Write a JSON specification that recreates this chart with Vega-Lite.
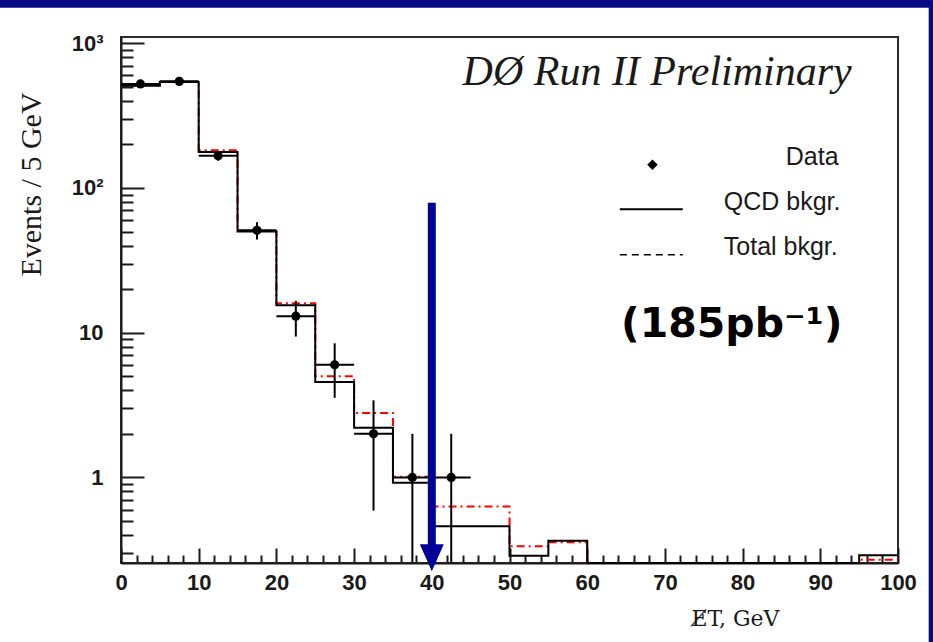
{
  "$schema": "https://vega.github.io/schema/vega-lite/v6.json",
  "width": 777,
  "height": 526,
  "autosize": {"type": "none"},
  "padding": {"left": 121, "top": 37, "right": 35, "bottom": 79},
  "background": "#ffffff",
  "config": {
    "view": {"stroke": "#2b2b2b", "strokeWidth": 2},
    "axis": {"labelOverlap": false, "labelFlush": false, "grid": false}
  },
  "datasets": {
    "bkg": [
      {"lo": 0, "hi": 5, "qcd": 509, "total": 511},
      {"lo": 5, "hi": 10, "qcd": 540, "total": 542},
      {"lo": 10, "hi": 15, "qcd": 177, "total": 182},
      {"lo": 15, "hi": 20, "qcd": 50, "total": 50.5},
      {"lo": 20, "hi": 25, "qcd": 15.5, "total": 16},
      {"lo": 25, "hi": 30, "qcd": 4.57, "total": 5.0},
      {"lo": 30, "hi": 35, "qcd": 2.2, "total": 2.79},
      {"lo": 35, "hi": 40, "qcd": 0.92, "total": 1.01},
      {"lo": 40, "hi": 45, "qcd": 0.46, "total": 0.63},
      {"lo": 45, "hi": 50, "qcd": 0.46, "total": 0.63},
      {"lo": 50, "hi": 55, "qcd": 0.288, "total": 0.334},
      {"lo": 55, "hi": 60, "qcd": 0.365, "total": 0.356},
      {"lo": 60, "hi": 65, "qcd": 0, "total": 0},
      {"lo": 65, "hi": 70, "qcd": 0, "total": 0},
      {"lo": 70, "hi": 75, "qcd": 0, "total": 0},
      {"lo": 75, "hi": 80, "qcd": 0, "total": 0},
      {"lo": 80, "hi": 85, "qcd": 0, "total": 0},
      {"lo": 85, "hi": 90, "qcd": 0, "total": 0},
      {"lo": 90, "hi": 95, "qcd": 0, "total": 0},
      {"lo": 95, "hi": 100, "qcd": 0.29, "total": 0.27}
    ],
    "obs": [
      {"c": 2.5, "lo": 0, "hi": 5, "n": 523, "elo": 500, "ehi": 546},
      {"c": 7.5, "lo": 5, "hi": 10, "n": 545, "elo": 522, "ehi": 568},
      {"c": 12.5, "lo": 10, "hi": 15, "n": 167, "elo": 154, "ehi": 180},
      {"c": 17.5, "lo": 15, "hi": 20, "n": 51, "elo": 44, "ehi": 58},
      {"c": 22.5, "lo": 20, "hi": 25, "n": 13, "elo": 9.4, "ehi": 16.6},
      {"c": 27.5, "lo": 25, "hi": 30, "n": 6, "elo": 3.55, "ehi": 8.45},
      {"c": 32.5, "lo": 30, "hi": 35, "n": 2, "elo": 0.59, "ehi": 3.41},
      {"c": 37.5, "lo": 35, "hi": 40, "n": 1, "elo": 0, "ehi": 2},
      {"c": 42.5, "lo": 40, "hi": 45, "n": 1, "elo": 0, "ehi": 2}
    ]
  },
  "layer": [
    {
      "data": {"values": [{}]},
      "mark": {"type": "rect", "color": "#0a0a86"},
      "encoding": {
        "x": {
          "datum": -15.6, "type": "quantitative",
          "scale": {"domain": [0, 100], "nice": false, "zero": false},
          "axis": {
            "orient": "bottom",
            "values": [2, 4, 6, 8, 12, 14, 16, 18, 22, 24, 26, 28, 32, 34, 36, 38, 42, 44, 46, 48, 52, 54, 56, 58, 62, 64, 66, 68, 72, 74, 76, 78, 82, 84, 86, 88, 92, 94, 96, 98],
            "labels": false,
            "domain": false,
            "ticks": false,
            "title": null,
            "grid": true,
            "gridDash": [0, 518, 8, 1000],
            "gridWidth": 2,
            "gridColor": "#1a1a1a",
            "gridOpacity": 1
          }
        },
        "x2": {"datum": 104.6},
        "y": {
          "datum": 2000, "type": "quantitative",
          "scale": {"type": "log", "domain": [0.2563, 1104], "nice": false},
          "axis": {
            "orient": "left",
            "values": [0.3, 0.4, 0.5, 0.6, 0.7, 0.8, 0.9, 2, 3, 4, 5, 6, 7, 8, 9, 20, 30, 40, 50, 60, 70, 80, 90, 200, 300, 400, 500, 600, 700, 800, 900],
            "labels": false,
            "domain": false,
            "title": null,
            "tickSize": -12,
            "tickWidth": 2,
            "tickColor": "#1a1a1a"
          }
        },
        "y2": {"datum": 1759}
      }
    },
    {
      "data": {"values": [{}]},
      "mark": {"type": "rect", "color": "#0a0a86"},
      "encoding": {
        "x": {
          "datum": 103.95, "type": "quantitative",
          "scale": {"domain": [0, 100], "nice": false, "zero": false},
          "axis": null
        },
        "x2": {"datum": 104.6},
        "y": {
          "datum": 2000, "type": "quantitative",
          "scale": {"type": "log", "domain": [0.2563, 1104], "nice": false},
          "axis": null
        },
        "y2": {"datum": 0.07}
      }
    },
    {
      "layer": [
        {
          "data": {"name": "bkg"},
          "transform": [{"fold": ["lo", "hi"], "as": ["edge", "x"]}],
          "mark": {"type": "line", "color": "#ff0000", "strokeWidth": 2, "strokeDash": [8, 4, 2, 4]},
          "encoding": {
            "x": {
              "field": "x", "type": "quantitative",
              "scale": {"domain": [0, 100], "nice": false, "zero": false},
              "axis": {
                "orient": "bottom",
                "values": [0, 10, 20, 30, 40, 50, 60, 70, 80, 90, 100],
                "format": "d",
                "labelFont": "Liberation Sans",
                "labelFontWeight": "bold",
                "labelFontSize": 22,
                "labelColor": "#1a1a1a",
                "labelPadding": 9,
                "ticks": false,
                "grid": true,
                "gridDash": [0, 511, 15, 1000],
                "gridWidth": 2,
                "gridColor": "#1a1a1a",
                "gridOpacity": 1,
                "domainColor": "#1a1a1a",
                "domainWidth": 2,
                "title": "E̸T, GeV",
                "titleFont": "DejaVu Serif",
                "titleFontSize": 22,
                "titleFontWeight": "normal",
                "titleColor": "#1a1a1a",
                "titleX": 614,
                "titleY": 55,
                "titleAlign": "center",
                "titleBaseline": "middle"
              }
            },
            "y": {
              "field": "total", "type": "quantitative",
              "scale": {"type": "log", "domain": [0.2563, 1104], "nice": false, "clamp": true},
              "axis": {
                "orient": "left",
                "values": [1, 10, 100, 1000],
                "labelExpr": "datum.value === 1000 ? '10³' : datum.value === 100 ? '10²' : datum.value === 10 ? '10' : '1'",
                "labelFont": "Liberation Sans",
                "labelFontWeight": "bold",
                "labelFontSize": 22,
                "labelColor": "#1a1a1a",
                "labelPadding": 41,
                "tickSize": -23,
                "tickColor": "#1a1a1a",
                "tickWidth": 2,
                "domainColor": "#1a1a1a",
                "domainWidth": 2,
                "title": "Events / 5 GeV",
                "titleFont": "Liberation Serif",
                "titleFontSize": 30,
                "titleFontWeight": "normal",
                "titleColor": "#1a1a1a",
                "titleAngle": 270,
                "titleX": -90,
                "titleY": 147,
                "titleAlign": "center",
                "titleBaseline": "middle"
              }
            },
            "order": [{"field": "lo", "type": "quantitative"}, {"field": "edge", "type": "nominal", "sort": "descending"}]
          }
        },
        {
          "data": {"name": "bkg"},
          "transform": [{"fold": ["lo", "hi"], "as": ["edge", "x"]}],
          "mark": {"type": "line", "color": "#000000", "strokeWidth": 2},
          "encoding": {
            "x": {"field": "x", "type": "quantitative"},
            "y": {"field": "qcd", "type": "quantitative"},
            "order": [{"field": "lo", "type": "quantitative"}, {"field": "edge", "type": "nominal", "sort": "descending"}]
          }
        },
        {
          "data": {"name": "obs"},
          "mark": {"type": "rule", "color": "#000000", "strokeWidth": 2},
          "encoding": {
            "x": {"field": "c", "type": "quantitative"},
            "y": {"field": "elo", "type": "quantitative"},
            "y2": {"field": "ehi"}
          }
        },
        {
          "data": {"name": "obs"},
          "mark": {"type": "rule", "color": "#000000", "strokeWidth": 2},
          "encoding": {
            "x": {"field": "lo", "type": "quantitative"},
            "x2": {"field": "hi"},
            "y": {"field": "n", "type": "quantitative"}
          }
        },
        {
          "data": {"name": "obs"},
          "mark": {"type": "point", "shape": "circle", "filled": true, "color": "#000000", "opacity": 1, "size": 85},
          "encoding": {
            "x": {"field": "c", "type": "quantitative"},
            "y": {"field": "n", "type": "quantitative"}
          }
        },
        {
          "data": {"values": [{}]},
          "mark": {"type": "point", "shape": "diamond", "filled": true, "color": "#000000", "opacity": 1, "size": 110},
          "encoding": {
            "x": {"datum": 68.4, "type": "quantitative"},
            "y": {"datum": 144.4, "type": "quantitative"}
          }
        },
        {
          "data": {"values": [{}]},
          "mark": {"type": "rule", "color": "#000000", "strokeWidth": 2},
          "encoding": {
            "x": {"datum": 64.2, "type": "quantitative"},
            "x2": {"datum": 72.3},
            "y": {"datum": 71.4, "type": "quantitative"}
          }
        },
        {
          "data": {"values": [{}]},
          "mark": {"type": "rule", "color": "#000000", "strokeWidth": 1.5, "strokeDash": [7, 5]},
          "encoding": {
            "x": {"datum": 64.2, "type": "quantitative"},
            "x2": {"datum": 72.3},
            "y": {"datum": 34.5, "type": "quantitative"}
          }
        },
        {
          "data": {"values": [{}]},
          "mark": {"type": "text", "text": "Data", "font": "Liberation Sans", "fontSize": 25, "color": "#1a1a1a", "align": "left", "baseline": "alphabetic"},
          "encoding": {
            "x": {"datum": 85.55, "type": "quantitative"},
            "y": {"datum": 144.4, "type": "quantitative"}
          }
        },
        {
          "data": {"values": [{}]},
          "mark": {"type": "text", "text": "QCD bkgr.", "font": "Liberation Sans", "fontSize": 25, "color": "#1a1a1a", "align": "left", "baseline": "alphabetic"},
          "encoding": {
            "x": {"datum": 77.58, "type": "quantitative"},
            "y": {"datum": 70.2, "type": "quantitative"}
          }
        },
        {
          "data": {"values": [{}]},
          "mark": {"type": "text", "text": "Total bkgr.", "font": "Liberation Sans", "fontSize": 25, "color": "#1a1a1a", "align": "left", "baseline": "alphabetic"},
          "encoding": {
            "x": {"datum": 77.58, "type": "quantitative"},
            "y": {"datum": 34.6, "type": "quantitative"}
          }
        },
        {
          "data": {"values": [{}]},
          "mark": {"type": "text", "text": "DØ Run II Preliminary", "font": "Liberation Serif", "fontStyle": "italic", "fontSize": 42, "color": "#1a1a1a", "align": "right", "baseline": "alphabetic"},
          "encoding": {
            "x": {"datum": 94.05, "type": "quantitative"},
            "y": {"datum": 516.8, "type": "quantitative"}
          }
        },
        {
          "data": {"values": [{}]},
          "mark": {"type": "text", "text": "(185pb⁻¹)", "font": "DejaVu Sans", "fontWeight": "bold", "fontSize": 41, "color": "#000000", "align": "center", "baseline": "alphabetic"},
          "encoding": {
            "x": {"datum": 78.6, "type": "quantitative"},
            "y": {"datum": 9.38, "type": "quantitative"}
          }
        },
        {
          "data": {"values": [{}]},
          "mark": {"type": "rule", "color": "#000099", "strokeWidth": 8, "strokeCap": "butt"},
          "encoding": {
            "x": {"datum": 40, "type": "quantitative"},
            "y": {"datum": 79.1, "type": "quantitative"},
            "y2": {"datum": 0.3373}
          }
        },
        {
          "data": {"values": [{}]},
          "mark": {"type": "point", "shape": "M-1,-1.125L1,-1.125L0,1.125Z", "filled": true, "color": "#000099", "opacity": 1, "size": 576},
          "encoding": {
            "x": {"datum": 40, "type": "quantitative"},
            "y": {"datum": 0.2787, "type": "quantitative"}
          }
        }
      ]
    }
  ],
  "resolve": {"scale": {"x": "independent", "y": "independent"}}
}
